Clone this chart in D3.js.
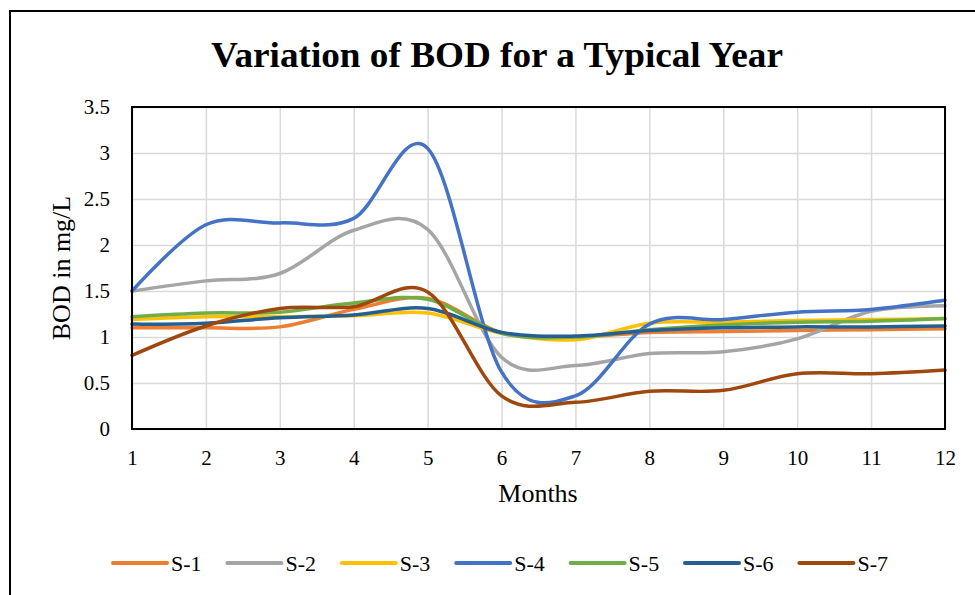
<!DOCTYPE html>
<html>
<head>
	<meta charset="utf-8">
	<title>Variation of BOD</title>
	<script src="https://cdn.jsdelivr.net/npm/d3@7"></script>
	<style type="text/css">
		body { margin: 0; background: #fff; }
		text { font-family: "Liberation Serif", "Times New Roman", serif; fill: #000; }
	</style>
</head>
<body>
	<script type="text/javascript">
		// Data
		var months = [1, 2, 3, 4, 5, 6, 7, 8, 9, 10, 11, 12];
		var seriesNames = ["S-1", "S-2", "S-3", "S-4", "S-5", "S-6", "S-7"];
		var s1 = [1.10, 1.10, 1.11, 1.30, 1.42, 1.05, 1.00, 1.05, 1.06, 1.07, 1.08, 1.09];
		var s2 = [1.50, 1.61, 1.69, 2.16, 2.17, 0.78, 0.69, 0.82, 0.84, 0.98, 1.28, 1.34];
		var s3 = [1.19, 1.22, 1.22, 1.23, 1.26, 1.04, 0.97, 1.15, 1.16, 1.18, 1.19, 1.20];
		var s4 = [1.50, 2.22, 2.24, 2.29, 3.05, 0.62, 0.36, 1.14, 1.19, 1.27, 1.30, 1.40];
		var s5 = [1.22, 1.26, 1.27, 1.37, 1.41, 1.04, 1.00, 1.08, 1.13, 1.16, 1.17, 1.20];
		var s6 = [1.14, 1.15, 1.21, 1.24, 1.31, 1.05, 1.01, 1.07, 1.10, 1.11, 1.11, 1.12];
		var s7 = [0.80, 1.12, 1.31, 1.33, 1.49, 0.36, 0.29, 0.41, 0.42, 0.60, 0.60, 0.64];
		var yTicks = [0, 0.5, 1, 1.5, 2, 2.5, 3, 3.5];
		var colors = ["#ED7D31", "#A5A5A5", "#FFC000", "#4472C4", "#70AD47", "#255E91", "#9E480E"];

		var series = [s1, s2, s3, s4, s5, s6, s7];

		var width = 975, height = 595;
		var margin = {left: 132, right: 30, top: 107, bottom: 166};

		var svg = d3.select("body").append("svg")
			.attr("width", width)
			.attr("height", height);

		// outer chart border (runs off the page on the right and bottom)
		svg.append("rect")
			.attr("x", 10).attr("y", 11)
			.attr("width", 1000).attr("height", 700)
			.attr("fill", "none")
			.attr("stroke", "#000")
			.attr("stroke-width", 2);

		var xScale = d3.scaleLinear()
			.domain([1, 12])
			.range([margin.left, width - margin.right]);
		var yScale = d3.scaleLinear()
			.domain([0, 3.5])
			.range([height - margin.bottom, margin.top]);

		// gridlines
		svg.append("g")
			.attr("transform", "translate(0," + (height - margin.bottom) + ")")
			.call(d3.axisBottom(xScale).tickValues(months)
				.tickSize(-(height - margin.bottom - margin.top)).tickFormat(""))
			.call(function(g) { g.select(".domain").remove(); })
			.selectAll("line").attr("stroke", "#d9d9d9").attr("stroke-width", 1.5);
		svg.append("g")
			.attr("transform", "translate(" + margin.left + ",0)")
			.call(d3.axisLeft(yScale).tickValues(yTicks)
				.tickSize(-(width - margin.right - margin.left)).tickFormat(""))
			.call(function(g) { g.select(".domain").remove(); })
			.selectAll("line").attr("stroke", "#d9d9d9").attr("stroke-width", 1.5);

		// tick labels
		var xAxis = svg.append("g")
			.attr("transform", "translate(0," + (height - margin.bottom) + ")")
			.call(d3.axisBottom(xScale).tickValues(months).tickSize(0).tickPadding(21).tickFormat(d3.format("d")));
		xAxis.select(".domain").remove();
		xAxis.selectAll("text").style("font-size", "21px").attr("font-family", null);

		var yAxis = svg.append("g")
			.attr("transform", "translate(" + margin.left + ",0)")
			.call(d3.axisLeft(yScale).tickValues(yTicks).tickSize(0).tickPadding(22).tickFormat(function(d) { return d; }));
		yAxis.select(".domain").remove();
		yAxis.selectAll("text").style("font-size", "21px").attr("font-family", null);

		// lines
		var line = d3.line()
			.x(function(d, i) { return xScale(months[i]); })
			.y(function(d) { return yScale(d); })
			.curve(d3.curveCardinal.tension(0));

		svg.selectAll("path.series")
			.data(series)
			.enter()
			.append("path")
			.attr("class", "series")
			.attr("d", line)
			.attr("fill", "none")
			.attr("stroke", function(d, i) { return colors[i]; })
			.attr("stroke-width", 3.5)
			.attr("stroke-linecap", "round")
			.attr("stroke-linejoin", "round");

		// plot area border
		svg.append("rect")
			.attr("x", margin.left).attr("y", margin.top)
			.attr("width", width - margin.right - margin.left)
			.attr("height", height - margin.bottom - margin.top)
			.attr("fill", "none")
			.attr("stroke", "#000")
			.attr("stroke-width", 2);

		// titles
		svg.append("text")
			.attr("x", 497).attr("y", 67)
			.attr("text-anchor", "middle")
			.attr("textLength", 572)
			.attr("lengthAdjust", "spacingAndGlyphs")
			.style("font-size", "36px")
			.style("font-weight", "bold")
			.text("Variation of BOD for a Typical Year");

		svg.append("text")
			.attr("x", 538).attr("y", 502)
			.attr("text-anchor", "middle")
			.style("font-size", "26px")
			.text("Months");

		svg.append("text")
			.attr("transform", "translate(70,268) rotate(-90)")
			.attr("text-anchor", "middle")
			.style("font-size", "26px")
			.text("BOD in mg/L");

		// legend
		var legend = svg.selectAll("g.legend")
			.data(seriesNames)
			.enter()
			.append("g")
			.attr("class", "legend")
			.attr("transform", function(d, i) { return "translate(" + (113 + i * 114.4) + ",563)"; });
		legend.append("line")
			.attr("x1", 0).attr("x2", 54)
			.attr("stroke", function(d, i) { return colors[i]; })
			.attr("stroke-width", 4)
			.attr("stroke-linecap", "round");
		legend.append("text")
			.attr("x", 58).attr("y", 8)
			.style("font-size", "22px")
			.text(function(d) { return d; });
	</script>
</body>
</html>
